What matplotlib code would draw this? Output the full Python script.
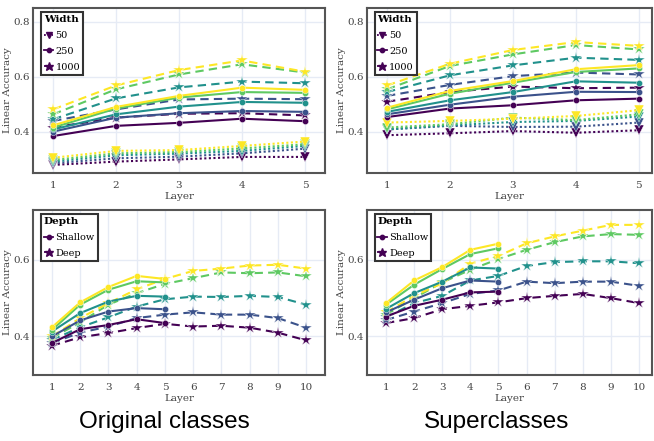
import matplotlib
matplotlib.use("Agg")
import matplotlib.pyplot as plt
from matplotlib.lines import Line2D

# colores viridis (5 niveles)
colores = ["#440154", "#3b528b", "#21918c", "#5ec962", "#fde725"]

capas_5 = [1, 2, 3, 4, 5]
capas_10 = [1, 2, 3, 4, 5, 6, 7, 8, 9, 10]

# --- Original classes, ancho (50 / 250 / 1000) ---
orig_w50 = [
    [0.279, 0.291, 0.299, 0.308, 0.308],
    [0.285, 0.303, 0.309, 0.321, 0.338],
    [0.291, 0.314, 0.320, 0.330, 0.348],
    [0.297, 0.321, 0.326, 0.339, 0.354],
    [0.305, 0.330, 0.333, 0.348, 0.364],
]
orig_w250 = [
    [0.384, 0.421, 0.432, 0.447, 0.438],
    [0.400, 0.451, 0.467, 0.475, 0.472],
    [0.408, 0.463, 0.491, 0.508, 0.505],
    [0.415, 0.484, 0.524, 0.544, 0.541],
    [0.423, 0.490, 0.530, 0.560, 0.552],
]
orig_w1000 = [
    [0.415, 0.451, 0.465, 0.467, 0.459],
    [0.439, 0.481, 0.517, 0.520, 0.518],
    [0.445, 0.521, 0.561, 0.582, 0.576],
    [0.463, 0.554, 0.608, 0.645, 0.615],
    [0.481, 0.568, 0.624, 0.659, 0.618],
]

# --- Superclasses, ancho ---
super_w50 = [
    [0.387, 0.394, 0.402, 0.396, 0.405],
    [0.408, 0.421, 0.417, 0.418, 0.433],
    [0.408, 0.423, 0.435, 0.439, 0.455],
    [0.415, 0.427, 0.451, 0.442, 0.463],
    [0.433, 0.439, 0.447, 0.457, 0.478],
]
super_w250 = [
    [0.453, 0.484, 0.496, 0.514, 0.520],
    [0.463, 0.498, 0.527, 0.545, 0.544],
    [0.472, 0.514, 0.544, 0.583, 0.578],
    [0.481, 0.538, 0.578, 0.617, 0.630],
    [0.487, 0.548, 0.584, 0.627, 0.642],
]
super_w1000 = [
    [0.509, 0.544, 0.564, 0.558, 0.560],
    [0.530, 0.570, 0.602, 0.615, 0.608],
    [0.544, 0.605, 0.641, 0.669, 0.661],
    [0.554, 0.639, 0.681, 0.715, 0.699],
    [0.568, 0.647, 0.697, 0.726, 0.712],
]

# --- Original classes, profundidad ---
orig_shallow = [
    [0.383, 0.419, 0.430, 0.445, 0.435],
    [0.400, 0.442, 0.465, 0.474, 0.471],
    [0.413, 0.461, 0.491, 0.506, 0.504],
    [0.417, 0.483, 0.522, 0.544, 0.541],
    [0.424, 0.489, 0.529, 0.558, 0.550],
]
orig_deep = [
    [0.376, 0.398, 0.409, 0.422, 0.433, 0.426, 0.428, 0.423, 0.410, 0.390],
    [0.383, 0.410, 0.426, 0.448, 0.457, 0.463, 0.457, 0.457, 0.448, 0.423],
    [0.391, 0.424, 0.450, 0.478, 0.497, 0.504, 0.503, 0.506, 0.503, 0.483],
    [0.396, 0.437, 0.483, 0.513, 0.537, 0.552, 0.567, 0.565, 0.567, 0.557],
    [0.400, 0.448, 0.487, 0.523, 0.550, 0.571, 0.577, 0.585, 0.587, 0.577],
]

# --- Superclasses, profundidad ---
super_shallow = [
    [0.452, 0.480, 0.496, 0.515, 0.517],
    [0.463, 0.496, 0.526, 0.546, 0.543],
    [0.472, 0.513, 0.543, 0.580, 0.577],
    [0.483, 0.535, 0.576, 0.615, 0.630],
    [0.487, 0.546, 0.581, 0.626, 0.642],
]
super_deep = [
    [0.435, 0.448, 0.471, 0.480, 0.489, 0.500, 0.506, 0.511, 0.500, 0.487],
    [0.443, 0.465, 0.487, 0.511, 0.520, 0.543, 0.539, 0.543, 0.543, 0.532],
    [0.450, 0.487, 0.506, 0.546, 0.558, 0.584, 0.594, 0.596, 0.596, 0.591],
    [0.457, 0.500, 0.541, 0.574, 0.602, 0.626, 0.646, 0.661, 0.667, 0.665],
    [0.463, 0.506, 0.539, 0.590, 0.610, 0.643, 0.661, 0.676, 0.691, 0.691],
]

TXT = "#444444"
GRID = "#e6ebf5"
SERIF = "DejaVu Serif"

estilos = {
    "dot": dict(linestyle=(0, (1, 1.2)), marker="v", markersize=7),
    "solid": dict(linestyle="-", marker="o", markersize=4.5),
    "dash": dict(linestyle=(0, (4, 2.5)), marker="*", markersize=9),
}


def dibujar(ax, x, series, estilo):
    for i, ys in enumerate(series):
        ax.plot(x[:len(ys)], ys, color=colores[i], linewidth=1.5,
                markeredgecolor="white", markeredgewidth=0.3,
                **estilos[estilo])


def preparar(ax, xlim, ylim, xticks, yticks):
    ax.set_xlim(*xlim)
    ax.set_ylim(*ylim)
    ax.set_xticks(xticks)
    ax.set_yticks(yticks)
    ax.grid(True, color=GRID, linewidth=1)
    ax.set_axisbelow(True)
    for s in ax.spines.values():
        s.set_color("#555555")
        s.set_linewidth(1.5)
    ax.tick_params(axis="x", length=0, pad=6, labelsize=7.5, labelcolor=TXT)
    ax.tick_params(axis="y", length=0, pad=2, labelsize=7.5, labelcolor=TXT)
    for lab in ax.get_xticklabels() + ax.get_yticklabels():
        lab.set_family(SERIF)
    ax.set_xlabel("Layer", fontsize=7.5, color=TXT, family=SERIF, labelpad=1)
    ax.set_ylabel("Linear Accuracy", fontsize=7.5, color=TXT, family=SERIF,
                  labelpad=1)


def leyenda(ax, titulo, etiquetas, estilos_ley):
    handles = []
    for est in estilos_ley:
        e = dict(estilos[est])
        e["markersize"] = e["markersize"] * 0.7
        handles.append(Line2D([], [], color=colores[0], linewidth=1.3, **e))
    leg = ax.legend(handles, etiquetas, title=titulo, loc="upper left",
                    bbox_to_anchor=(0.02, 0.985), fancybox=False,
                    framealpha=1, edgecolor="#333333", handlelength=1.0,
                    handletextpad=0.2, borderpad=0.3, labelspacing=0.7,
                    borderaxespad=0.2,
                    prop={"family": SERIF, "size": 7})
    leg.get_frame().set_linewidth(1.5)
    leg.get_title().set_fontweight("bold")
    leg.get_title().set_family(SERIF)
    leg.get_title().set_fontsize(7.5)
    leg._legend_box.align = "left"


fig = plt.figure(figsize=(6.54, 4.41), dpi=100)

ax1 = fig.add_axes([0.0505, 0.608, 0.4465, 0.374])
ax2 = fig.add_axes([0.561, 0.608, 0.436, 0.374])
ax3 = fig.add_axes([0.0505, 0.150, 0.4465, 0.374])
ax4 = fig.add_axes([0.561, 0.150, 0.436, 0.374])

dibujar(ax1, capas_5, orig_w50, "dot")
dibujar(ax1, capas_5, orig_w1000, "dash")
dibujar(ax1, capas_5, orig_w250, "solid")

dibujar(ax2, capas_5, super_w50, "dot")
dibujar(ax2, capas_5, super_w1000, "dash")
dibujar(ax2, capas_5, super_w250, "solid")

dibujar(ax3, capas_10, orig_deep, "dash")
dibujar(ax3, capas_5, orig_shallow, "solid")

dibujar(ax4, capas_10, super_deep, "dash")
dibujar(ax4, capas_5, super_shallow, "solid")

preparar(ax1, (0.68, 5.32), (0.25, 0.85), capas_5, [0.4, 0.6, 0.8])
preparar(ax2, (0.68, 5.21), (0.25, 0.85), capas_5, [0.4, 0.6, 0.8])
preparar(ax3, (0.33, 10.67), (0.30, 0.73), capas_10, [0.4, 0.6])
preparar(ax4, (0.32, 10.46), (0.30, 0.73), capas_10, [0.4, 0.6])

leyenda(ax1, "Width", ["50", "250", "1000"], ["dot", "solid", "dash"])
leyenda(ax2, "Width", ["50", "250", "1000"], ["dot", "solid", "dash"])
leyenda(ax3, "Depth", ["Shallow", "Deep"], ["solid", "dash"])
leyenda(ax4, "Depth", ["Shallow", "Deep"], ["solid", "dash"])

fig.text(0.252, 0.03, "Original classes", ha="center", va="baseline",
         fontsize=17.5, family="Liberation Sans", color="black")
fig.text(0.76, 0.03, "Superclasses", ha="center", va="baseline",
         fontsize=17.5, family="Liberation Sans", color="black")

fig.savefig("out.png", dpi=100)
